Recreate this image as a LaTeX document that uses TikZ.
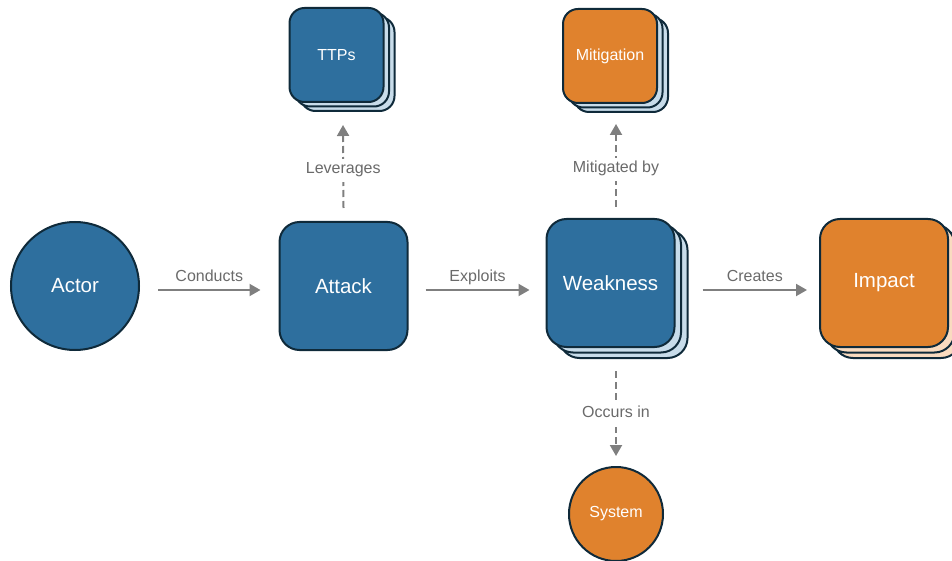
\documentclass[tikz,border=0pt]{standalone}
\usepackage{fontspec}
\setmainfont{Liberation Sans}
\usetikzlibrary{arrows.meta}
\definecolor{cblue}{HTML}{2E6F9E}
\definecolor{corange}{HTML}{E0822D}
\definecolor{clblue}{HTML}{C8DCEA}
\definecolor{clorange}{HTML}{F9DBC0}
\definecolor{cline}{HTML}{0F2A3A}
\definecolor{carrow}{HTML}{7F7F7F}
\definecolor{clabel}{HTML}{6A6A6A}
\tikzset{
  base/.style={draw=cline, line width=2pt, inner sep=0pt, text=white},
  bigbox/.style={base, rectangle, rounded corners=20pt, minimum width=128pt, minimum height=128pt, font=\fontsize{20.5}{24}\selectfont},
  smallbox/.style={base, rectangle, rounded corners=15pt, minimum width=94pt, minimum height=94pt, font=\fontsize{16}{19}\selectfont},
  blayer/.style={fill=clblue},
  olayer/.style={fill=clorange},
  bfront/.style={fill=cblue},
  ofront/.style={fill=corange},
  flow/.style={draw=carrow, line width=2pt, -{Triangle[length=11pt,width=12pt]}},
  dflow/.style={flow, dash pattern=on 7pt off 4pt},
  lbl/.style={text=clabel, font=\fontsize{16}{19}\selectfont, inner sep=2pt, text height=0.75em, text depth=0.22em},
  dlbl/.style={lbl, fill=white, inner xsep=3pt, inner ysep=7pt},
}
\begin{document}
\begin{tikzpicture}[x=1pt,y=-1pt]
\useasboundingbox (0,0) rectangle (952,561);
% Actor
\node[base, circle, fill=cblue, minimum size=128pt, font=\fontsize{20.5}{24}\selectfont] (actor) at (75,286) {Actor};
% Attack
\node[bigbox, bfront] (attack) at (343.5,286) {Attack};
% Weakness stack
\node[bigbox, blayer] (weak2) at (623.5,294) {};
\node[bigbox, blayer] (weak1) at (617,288.5) {};
\node[bigbox, bfront] (weak) at (610.5,283) {Weakness};
% Impact stack
\node[bigbox, olayer] (imp2) at (897,294) {};
\node[bigbox, olayer] (imp1) at (890.5,288.5) {};
\node[bigbox, ofront] (impact) at (884,283) {Impact};
% TTPs stack
\node[smallbox, blayer] (ttp2) at (347.5,64) {};
\node[smallbox, blayer] (ttp1) at (342,59.5) {};
\node[smallbox, bfront] (ttps) at (336.5,55) {TTPs};
% Mitigation stack
\node[smallbox, blayer] (mit2) at (621,65) {};
\node[smallbox, blayer] (mit1) at (615.5,60.5) {};
\node[smallbox, ofront] (mit) at (610,56) {Mitigation};
% System
\node[base, circle, fill=corange, minimum size=94pt, font=\fontsize{16}{19}\selectfont] (system) at (616,514) {System};
% Flows
\draw[flow] ([xshift=18pt,yshift=-4pt]actor.east) -- ([xshift=-18pt,yshift=-4pt]attack.west)
  node[lbl, midway, above=3pt] {Conducts};
\draw[flow] ([xshift=17pt,yshift=-4pt]attack.east) -- ([xshift=-16pt,yshift=-7pt]weak.west)
  node[lbl, midway, above=3pt] {Exploits};
\draw[flow] ([xshift=14pt,yshift=4pt]weak2.east) -- ([xshift=-12pt,yshift=-7pt]impact.west)
  node[lbl, midway, above=3pt] {Creates};
\draw[dflow] ([yshift=13pt]attack.north) -- ([xshift=-4.5pt,yshift=-13pt]ttp2.south)
  node[dlbl, pos=0.45] {Leverages};
\draw[dflow] ([xshift=5.5pt,yshift=11pt]weak.north) -- ([xshift=-5pt,yshift=-11pt]mit2.south)
  node[dlbl, pos=0.45] {Mitigated by};
\draw[dflow] ([xshift=-7.5pt,yshift=-12pt]weak2.south) -- ([yshift=10pt]system.north)
  node[dlbl, pos=0.52] {Occurs in};
\end{tikzpicture}
\end{document}
